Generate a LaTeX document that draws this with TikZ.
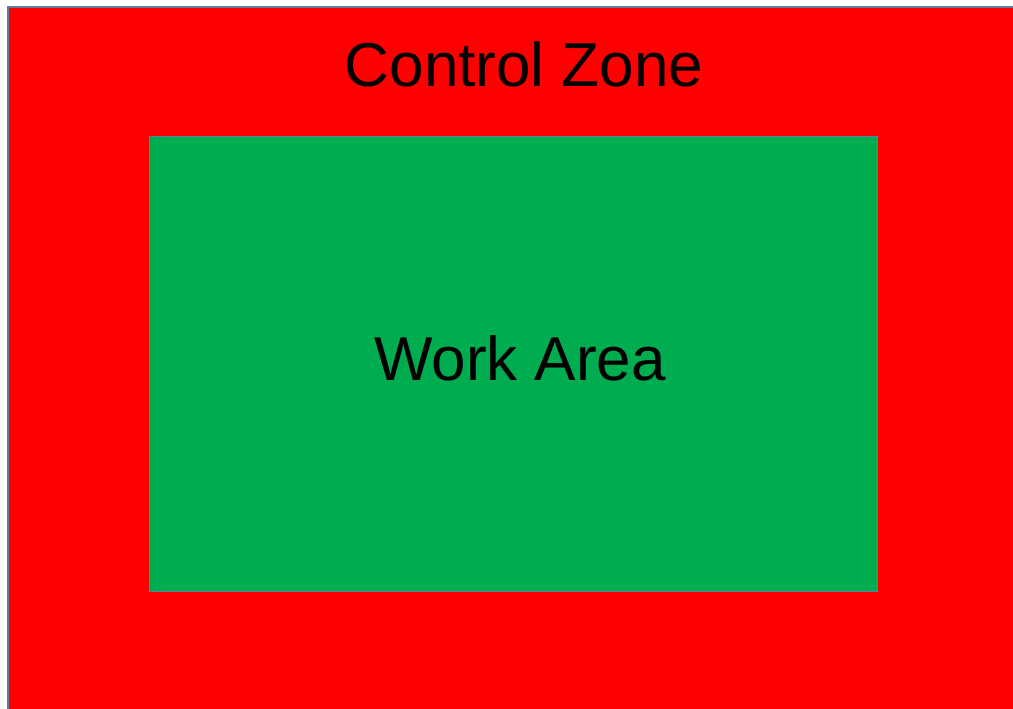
\documentclass[tikz,border=0pt]{standalone}
\usepackage{fontspec}
\setmainfont{Liberation Sans}
\definecolor{zonered}{RGB}{255,0,0}
\definecolor{workgreen}{RGB}{0,172,80}
\definecolor{edgeblue}{RGB}{95,125,160}
\tikzset{
  zone/.style={fill=zonered, draw=edgeblue, line width=2pt},
  work/.style={fill=workgreen, draw=edgeblue, line width=1.5pt},
  lbl/.style={font=\fontsize{62}{62}\selectfont, text=black, inner sep=0pt, anchor=base}
}
\begin{document}
\begin{tikzpicture}[x=1pt,y=-1pt]
  \useasboundingbox (0,0) rectangle (1013,709);
  \fill[white] (0,0) rectangle (1013,709);
  \begin{scope}
    \clip (0,0) rectangle (1013,709);
    \draw[zone] (7.5,7.5) rectangle (1030,730);
  \end{scope}
  \draw[work] (149.5,136.5) rectangle (877.5,591.5);
  \node[lbl] (zonelabel) at (524,87) {Control Zone};
  \node[lbl] (worklabel) at (520,380) {Work Area};
\end{tikzpicture}
\end{document}
